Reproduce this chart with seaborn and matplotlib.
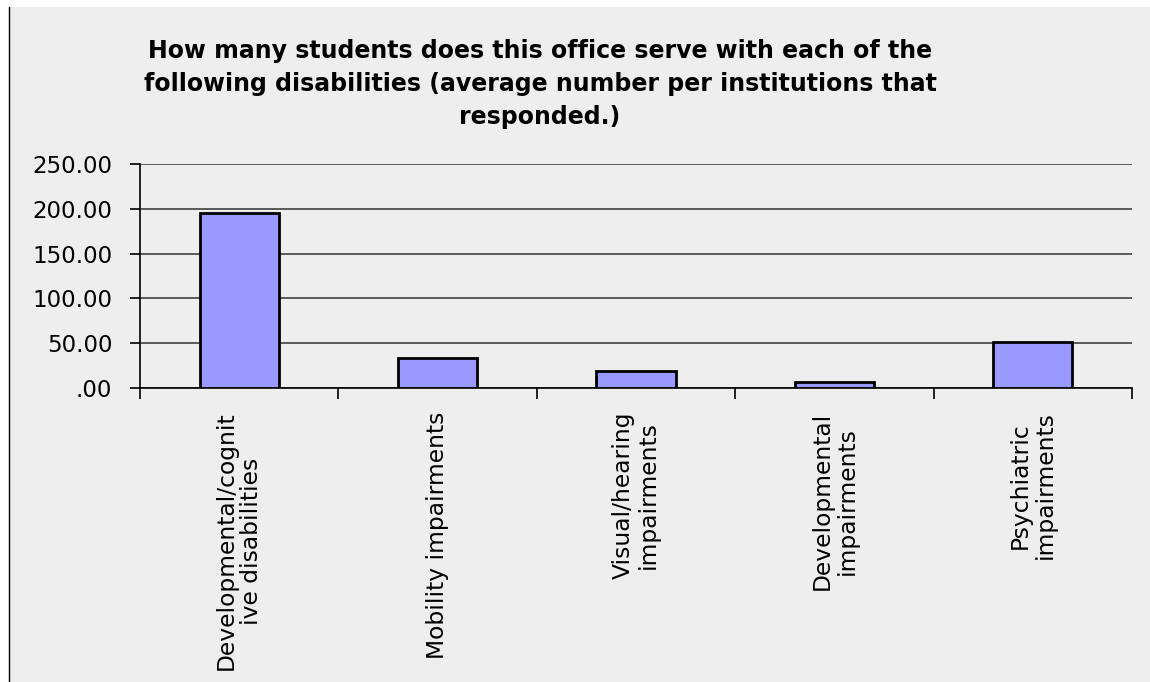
import matplotlib
matplotlib.use("Agg")
import matplotlib.pyplot as plt
from matplotlib.ticker import FuncFormatter, FixedLocator
from matplotlib.patches import Rectangle
from matplotlib.lines import Line2D
import seaborn as sns
import pandas as pd

categories = ["Developmental/cognit\nive disabilities", "Mobility impairments",
              "Visual/hearing\nimpairments", "Developmental\nimpairments",
              "Psychiatric\nimpairments"]
values = [195.0, 33.0, 19.0, 6.4, 51.7]
title = ("How many students does this office serve with each of the\n"
         "following disabilities (average number per institutions that\n"
         "responded.)")

sns.set_theme(style="white")
plt.rcParams['font.family'] = ['DejaVu Sans']

W, H = 1150, 682
fig = plt.figure(figsize=(W/100, H/100), dpi=100, facecolor="white")
fig.patches.append(Rectangle((9/W, 0), 1.01 - 9/W, (H - 7)/H, transform=fig.transFigure,
                             facecolor="#EEEEEE", edgecolor="none", zorder=-10))
fig.lines.append(Line2D([8.5/W, 8.5/W], [0, (H - 7)/H], transform=fig.transFigure,
                        color="black", lw=1, zorder=-9))

ax = fig.add_axes([140/W, 1 - 388/H, (1132 - 140)/W, (388 - 164)/H])
ax.set_facecolor("none")

df = pd.DataFrame({"cat": categories, "val": values})
sns.barplot(data=df, x="cat", y="val", ax=ax, color="#9999FF", width=0.4,
            edgecolor="black", linewidth=2, saturation=1, zorder=3)

ax.set_xlim(-0.5, len(categories) - 0.5)
ax.set_ylim(0, 250)
ax.set_yticks([0, 50, 100, 150, 200, 250])
ax.yaxis.set_major_formatter(FuncFormatter(lambda v, p: f"{v:.2f}".lstrip("0") if v < 1 else f"{v:.2f}"))
ax.grid(axis="y", color="#404040", lw=1.2, zorder=1)
ax.set_axisbelow(True)
ax.set_xlabel("")
ax.set_ylabel("")

for s in ["top", "right"]:
    ax.spines[s].set_visible(False)
for s in ["left", "bottom"]:
    ax.spines[s].set_color("black")
    ax.spines[s].set_linewidth(1.2)

ax.tick_params(axis="y", which="major", left=True, length=7, width=1.2, color="black",
               labelsize=16.5, pad=13, labelcolor="black")
ax.tick_params(axis="x", which="major", bottom=False, length=0, labelsize=16.8,
               pad=17, labelcolor="black")
ax.set_xticks(range(len(categories)))
ax.set_xticklabels(categories, rotation=90, va="top", ha="center", linespacing=1.12)
ax.xaxis.set_minor_locator(FixedLocator([i - 0.5 for i in range(len(categories) + 1)]))
ax.tick_params(axis="x", which="minor", bottom=True, length=8, width=1.2, color="black")

fig.text(540/W, 1 - 39/H, title, ha="center", va="top", fontsize=17,
         fontweight="bold", linespacing=1.47, color="black")

fig.savefig("out.png", dpi=100, facecolor="white")
